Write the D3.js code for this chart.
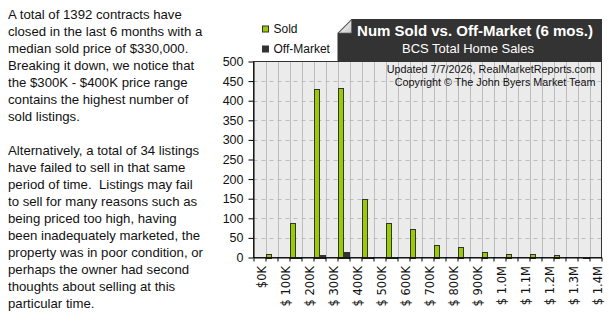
<!DOCTYPE html>
<html>
<head>
<meta charset="utf-8">
<script src="https://cdn.jsdelivr.net/npm/d3@7"></script>
<style>
  body { margin: 0; background: #fff; }
  svg { display: block; font-family: "Liberation Sans", Arial, sans-serif; }
</style>
</head>
<body>
<div id="body"></div>
<script>
// price bins in $K (bin start), sold and off-market counts
var bins = [0, 100, 200, 300, 400, 500, 600, 700, 800, 900, 1000, 1100, 1200, 1300];
var sold = [9, 88, 430, 432, 149, 88, 72, 32, 26, 14, 9, 9, 6, 0];
var offMarket = [0, 2, 7, 15, 2, 2, 0, 0, 0, 0, 0, 0, 0, 2];
var tickValues = [0, 100, 200, 300, 400, 500, 600, 700, 800, 900, 1000, 1100, 1200, 1300, 1400];
var tickLabels = ["$0K", "$ 100K", "$ 200K", "$ 300K", "$ 400K", "$ 500K", "$ 600K", "$ 700K",
    "$ 800K", "$ 900K", "$ 1.0M", "$ 1.1M", "$ 1.2M", "$ 1.3M", "$ 1.4M"];
var yTicks = [0, 50, 100, 150, 200, 250, 300, 350, 400, 450, 500];
var seriesNames = ["Sold", "Off-Market"];
var colors = ["#99cc00", "#333333"];

var blurb = [
    "A total of 1392 contracts have",
    "closed in the last 6 months with a",
    "median sold price of $330,000.",
    "Breaking it down, we notice that",
    "the $300K - $400K price range",
    "contains the highest number of",
    "sold listings.",
    "",
    "Alternatively, a total of 34 listings",
    "have failed to sell in that same",
    "period of time.  Listings may fail",
    "to sell for many reasons such as",
    "being priced too high, having",
    "been inadequately marketed, the",
    "property was in poor condition, or",
    "perhaps the owner had second",
    "thoughts about selling at this",
    "particular time."
];

var W = 609, H = 332;
var plot = { left: 253.5, right: 601.5, top: 61.5, bottom: 257.5 };

var svg = d3.select("#body").append("svg")
    .attr("width", W)
    .attr("height", H);

// left paragraph
svg.append("g").selectAll("text")
    .data(blurb)
    .enter().append("text")
    .attr("x", 8)
    .attr("y", (d, i) => 19 + i * 17)
    .attr("font-size", "13.2px")
    .attr("fill", "#111")
    .style("white-space", "pre")
    .text(d => d);

var x = d3.scaleLinear().domain([-50, 1400]).range([plot.left, plot.right]);
var y = d3.scaleLinear().domain([0, 500]).range([plot.bottom, plot.top]);
var unit = x(50) - x(0);

// plot background
svg.append("rect")
    .attr("x", plot.left).attr("y", plot.top)
    .attr("width", plot.right - plot.left)
    .attr("height", plot.bottom - plot.top)
    .attr("fill", "#ebebeb");

// vertical grid every $50K
svg.append("g").selectAll("line")
    .data(d3.range(0, 1400, 50))
    .enter().append("line")
    .attr("x1", d => Math.round(x(d)) + 0.5).attr("x2", d => Math.round(x(d)) + 0.5)
    .attr("y1", plot.top).attr("y2", plot.bottom)
    .attr("stroke", "#bdbdbd");

// horizontal dashed grid
svg.append("g").selectAll("line")
    .data(yTicks.slice(1, -1))
    .enter().append("line")
    .attr("x1", plot.left).attr("x2", plot.right)
    .attr("y1", d => Math.round(y(d)) + 0.5).attr("y2", d => Math.round(y(d)) + 0.5)
    .attr("stroke", "#bdbdbd")
    .attr("stroke-dasharray", "4,4");

// watermark
var wm = svg.append("g").attr("font-size", "10.8px").attr("fill", "#111").attr("text-anchor", "end");
wm.append("text").attr("x", 595).attr("y", 73).text("Updated 7/7/2026, RealMarketReports.com");
wm.append("text").attr("x", 595.5).attr("y", 85.5).text("Copyright \u00a9 The John Byers Market Team");

// bars
var rows = bins.map((b, i) => ({ bin: b, sold: sold[i], off: offMarket[i] }));
var gFrac = 0.4;

svg.append("g").selectAll("rect")
    .data(rows.filter(d => d.sold > 0))
    .enter().append("rect")
    .attr("x", d => Math.round(x(d.bin)) + 0.5)
    .attr("y", d => Math.round(y(d.sold)) + 0.5)
    .attr("width", Math.round(unit * gFrac))
    .attr("height", d => Math.round(y(0)) - Math.round(y(d.sold)))
    .attr("fill", colors[0])
    .attr("stroke", "#333")
    .attr("stroke-width", 1);

svg.append("g").selectAll("rect")
    .data(rows.filter(d => d.off > 0))
    .enter().append("rect")
    .attr("x", d => Math.round(x(d.bin)) + 0.5 + Math.round(unit * gFrac))
    .attr("y", d => Math.round(y(d.off)) + 0.5)
    .attr("width", Math.round(unit * (1 - gFrac)) - 1)
    .attr("height", d => Math.round(y(0)) - Math.round(y(d.off)))
    .attr("fill", colors[1])
    .attr("stroke", "#333")
    .attr("stroke-width", 1);

// plot frame
svg.append("rect")
    .attr("x", plot.left).attr("y", plot.top)
    .attr("width", plot.right - plot.left)
    .attr("height", plot.bottom - plot.top)
    .attr("fill", "none")
    .attr("stroke", "#333");

// y axis
var yAxis = svg.append("g")
    .attr("transform", "translate(" + plot.left + ",0)")
    .call(d3.axisLeft(y).tickValues(yTicks).tickSize(5).tickSizeOuter(0));
yAxis.select(".domain").attr("stroke", "#000");
yAxis.selectAll(".tick line").attr("stroke", "#000");
yAxis.selectAll(".tick text")
    .attr("font-family", "Liberation Sans, Arial, sans-serif")
    .attr("font-size", "12.5px")
    .attr("fill", "#111")
    .attr("x", -10);

// x axis: ticks every $50K, labels every $100K
var xAxis = svg.append("g")
    .attr("transform", "translate(0," + plot.bottom + ")")
    .call(d3.axisBottom(x).tickValues(d3.range(-50, 1401, 50)).tickSize(4).tickSizeOuter(0).tickFormat(""));
xAxis.select(".domain").attr("stroke", "#000");
xAxis.selectAll(".tick line").attr("stroke", "#000");

svg.append("g").selectAll("text")
    .data(tickValues)
    .enter().append("text")
    .attr("transform", d => "translate(" + (x(d) + 0.5) + "," + 266 + ") rotate(-90)")
    .attr("text-anchor", "end")
    .attr("font-family", "DejaVu Sans, sans-serif")
    .attr("font-size", "11.5px")
    .attr("fill", "#111")
    .style("white-space", "pre")
    .text((d, i) => tickLabels[i]);

// legend
var legend = svg.append("g").selectAll("g")
    .data(seriesNames)
    .enter().append("g")
    .attr("transform", (d, i) => "translate(262.5," + (26 + i * 20) + ")");
legend.append("rect")
    .attr("width", 6).attr("height", 6)
    .attr("fill", (d, i) => colors[i])
    .attr("stroke", "#333");
legend.append("text")
    .attr("x", 11).attr("y", 7)
    .attr("font-size", "12px")
    .attr("fill", "#111")
    .text(d => d);

// title box with folded corner
var bx = 337.5, by = 19, bw = 602 - 337.5, bh = plot.top - 19, fold = 14;
svg.append("path")
    .attr("d", "M" + bx + "," + (by + fold) + "L" + (bx + fold) + "," + by + "H" + (bx + bw) + "V" + (by + bh) + "H" + bx + "Z")
    .attr("fill", "#333");
var grad = svg.append("defs").append("linearGradient")
    .attr("id", "flap").attr("x1", 0).attr("y1", 0).attr("x2", 1).attr("y2", 1);
grad.append("stop").attr("offset", "0%").attr("stop-color", "#ffffff");
grad.append("stop").attr("offset", "100%").attr("stop-color", "#c8c8c8");
svg.append("path")
    .attr("d", "M" + (bx + 1) + "," + (by + fold) + "L" + (bx + fold) + "," + (by + 1) + "V" + (by + fold) + "Z")
    .attr("fill", "url(#flap)")
    .attr("stroke", "#666")
    .attr("stroke-width", 0.7);

svg.append("text")
    .attr("x", 475).attr("y", 35.5)
    .attr("text-anchor", "middle")
    .attr("font-size", "15px")
    .attr("font-weight", "bold")
    .attr("fill", "#fff")
    .text("Num Sold vs. Off-Market (6 mos.)");
svg.append("text")
    .attr("x", 468).attr("y", 53)
    .attr("text-anchor", "middle")
    .attr("font-size", "13px")
    .attr("fill", "#fff")
    .text("BCS Total Home Sales");
</script>
</body>
</html>
